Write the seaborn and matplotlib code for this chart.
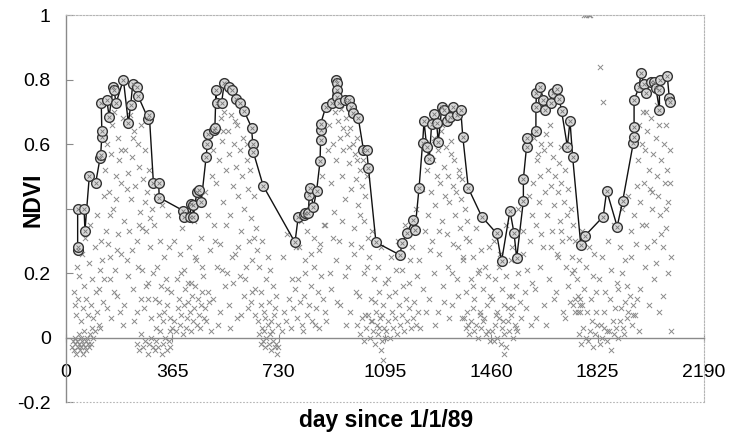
import matplotlib
matplotlib.use("Agg")
import matplotlib.pyplot as plt
import seaborn as sns
import pandas as pd

# ---------------- data ----------------
x_ticks = [0, 365, 730, 1095, 1460, 1825, 2190]
y_ticks = [-0.2, 0, 0.2, 0.4, 0.6, 0.8, 1]
# the 0.4 label is hidden under the axis title in the reference
y_tick_labels = ["-0.2", "0", "0.2", "", "0.6", "0.8", "1"]

# upper envelope (circles joined by line)
env_day = [40, 40, 40, 62, 65, 80, 102, 117, 119, 123, 123, 121, 140, 148, 162, 165, 172, 197,
           214, 222, 229, 245, 247, 283, 286, 300, 318, 320, 403, 406, 426, 429, 435, 437, 449,
           458, 464, 481, 485, 488, 508, 511, 515, 517, 534, 543, 561, 569, 584, 597, 611, 637,
           641, 643, 677, 786, 797, 817, 820, 832, 835, 838, 849, 860, 872, 874, 874, 874, 892,
           912, 926, 929, 931, 929, 938, 958, 972, 980, 986, 1003, 1021, 1032, 1038, 1064, 1146,
           1154, 1169, 1192, 1198, 1212, 1224, 1229, 1238, 1247, 1255, 1263, 1272, 1278, 1290,
           1297, 1307, 1318, 1329, 1341, 1355, 1362, 1381, 1427, 1478, 1495, 1524, 1538, 1547,
           1570, 1570, 1581, 1581, 1613, 1613, 1615, 1627, 1639, 1644, 1664, 1671, 1684, 1693,
           1701, 1721, 1730, 1739, 1767, 1782, 1844, 1856, 1892, 1911, 1947, 1950, 1950, 1950,
           1968, 1973, 1984, 1991, 2007, 2018, 2025, 2037, 2037, 2039, 2064, 2071, 2073]
env_ndvi = [0.27, 0.28, 0.40, 0.40, 0.33, 0.50, 0.48, 0.556, 0.567, 0.623, 0.64, 0.727, 0.737,
            0.685, 0.778, 0.766, 0.727, 0.80, 0.665, 0.72, 0.786, 0.778, 0.75, 0.676, 0.69, 0.48,
            0.48, 0.434, 0.393, 0.375, 0.375, 0.413, 0.41, 0.375, 0.45, 0.458, 0.42, 0.56, 0.60,
            0.63, 0.644, 0.65, 0.768, 0.727, 0.727, 0.788, 0.778, 0.768, 0.74, 0.727, 0.703,
            0.651, 0.60, 0.575, 0.47, 0.295, 0.373, 0.38, 0.386, 0.386, 0.442, 0.463, 0.404,
            0.453, 0.546, 0.613, 0.644, 0.662, 0.716, 0.727, 0.80, 0.789, 0.768, 0.747, 0.727,
            0.737, 0.737, 0.716, 0.695, 0.682, 0.582, 0.582, 0.527, 0.295, 0.256, 0.292, 0.323,
            0.365, 0.334, 0.465, 0.602, 0.67, 0.592, 0.554, 0.661, 0.692, 0.665, 0.606, 0.716,
            0.706, 0.672, 0.685, 0.716, 0.69, 0.706, 0.623, 0.463, 0.375, 0.323, 0.236, 0.393,
            0.323, 0.246, 0.424, 0.492, 0.592, 0.62, 0.641, 0.716, 0.758, 0.778, 0.737, 0.706,
            0.727, 0.758, 0.771, 0.74, 0.703, 0.592, 0.672, 0.561, 0.287, 0.316, 0.375, 0.455,
            0.344, 0.424, 0.602, 0.623, 0.654, 0.737, 0.778, 0.82, 0.786, 0.758, 0.792, 0.792,
            0.773, 0.706, 0.768, 0.80, 0.81, 0.742, 0.73]

# individual observations (gray crosses), by year
obs_day_1989 = [22, 25, 27, 30, 32, 35, 37, 40, 43, 45, 47, 50, 52, 55, 57, 60, 63, 66, 68, 70, 73, 76,
                79, 82, 86, 90, 94, 98,
                26, 30, 34, 38, 42, 46, 50, 54, 58, 62, 66, 70, 74, 78, 82, 86, 90, 94, 98, 103, 108,
                112, 116, 120, 126, 130,
                134, 138, 142, 146, 150, 154, 158, 162, 166, 170, 174, 178, 182, 186, 190, 194, 198,
                202, 206, 210, 214, 218, 222, 226, 230, 234, 238, 242, 246, 250, 254, 258, 262, 266,
                270, 274, 278, 282, 286, 290, 294, 298,
                140, 152, 165, 180, 196, 212, 228, 244, 262, 276,
                302, 306, 310, 314, 318, 322, 326, 330, 334, 338, 342, 346, 350, 354, 358, 362,
                245, 252, 258, 265, 272, 280, 286, 292, 298, 304, 310, 316, 322, 328, 334, 340, 346,
                352, 358, 364,
                105, 112, 118, 124, 132, 144, 156, 168, 176, 188, 200, 216, 232, 248, 256, 268, 280,
                292, 308, 320, 336, 348, 356, 150, 170, 190, 210, 230, 250, 270, 290]
obs_ndvi_1989 = [-0.03, -0.01, -0.04, 0.00, -0.02, -0.05, -0.01, -0.03, 0.01, -0.02, -0.04, 0.00,
                 -0.03, -0.01, -0.05, -0.02, 0.02, -0.03, -0.01, -0.04, 0.00, -0.02, -0.03, 0.01,
                 -0.02, 0.03, 0.00, 0.02,
                 0.14, 0.10, 0.07, 0.22, 0.12, 0.19, 0.05, 0.26, 0.09, 0.16, 0.31, 0.12, 0.07, 0.23,
                 0.35, 0.10, 0.18, 0.06, 0.28, 0.14, 0.38, 0.04, 0.21, 0.30, 0.11, 0.44,
                 0.52, 0.33, 0.60, 0.45, 0.18, 0.57, 0.66, 0.40, 0.70, 0.50, 0.27, 0.62, 0.55, 0.08,
                 0.48, 0.68, 0.36, 0.58, 0.67, 0.24, 0.51, 0.69, 0.43, 0.56, 0.15, 0.64, 0.47, 0.30,
                 0.60, 0.53, 0.39, 0.66, 0.21, 0.49, 0.58, 0.33, 0.45, 0.12, 0.52, 0.28, 0.40, 0.20,
                 0.09, 0.25, 0.14, 0.32, 0.04, 0.19, 0.27, 0.08, 0.34, 0.16,
                 0.35, 0.12, 0.44, 0.22, 0.07, 0.30, 0.16, 0.41, 0.05, 0.25, 0.18, 0.10, 0.38, 0.28,
                 0.06, 0.14,
                 -0.02, -0.04, 0.01, -0.03, -0.01, -0.05, -0.02, 0.00, -0.03, -0.04, -0.01, -0.03,
                 0.02, -0.05, -0.02, 0.00, -0.04, -0.01, -0.03, 0.03,
                 0.08, 0.15, 0.03, 0.24, 0.18, 0.29, 0.06, 0.21, 0.13, 0.26, 0.10, 0.33, 0.05, 0.22,
                 0.12, 0.09, 0.17, 0.06, 0.03, 0.11, 0.08, 0.15, 0.02, 0.38, 0.43, 0.58, 0.46, 0.62,
                 0.35, 0.42, 0.37]

obs_day_1990 = [372, 378, 384, 388, 392, 396, 400, 404, 408, 412, 416, 420, 424, 428, 432, 436, 440,
                444, 448, 452, 456, 460, 464, 468, 472, 476,
                370, 380, 390, 398, 406, 414, 422, 430, 438, 446, 454, 462, 470, 478, 486, 494, 500,
                504, 508, 512, 516, 520, 524, 528, 532, 536, 540, 544, 548, 552, 556, 560, 564, 568,
                572, 576, 580, 584, 588, 592, 596, 600, 604, 608, 612, 616, 620, 624, 628, 632, 636,
                640, 644, 648, 652, 656,
                506, 518, 530, 546, 558, 570, 586, 598, 610, 626, 638, 650,
                662, 668, 674, 680, 686, 692, 698, 704, 710, 716, 722, 728,
                664, 668, 672, 676, 680, 684, 688, 692, 696, 700, 704, 708, 712, 716, 720, 724, 726,
                482, 490, 498, 510, 522, 534, 548, 562, 574, 590, 602, 618, 634, 646, 658, 670, 684,
                700, 714, 396, 418, 442, 466, 488, 540, 580, 620]
obs_ndvi_1990 = [0.05, 0.02, 0.09, 0.12, 0.04, 0.07, 0.01, 0.10, 0.15, 0.03, 0.06, 0.11, 0.08, 0.02,
                 0.13, 0.05, 0.09, 0.16, 0.04, 0.12, 0.07, 0.03, 0.10, 0.14, 0.06, 0.09,
                 0.30, 0.18, 0.26, 0.34, 0.21, 0.40, 0.28, 0.17, 0.36, 0.24, 0.42, 0.31, 0.19, 0.45,
                 0.38, 0.27, 0.50,
                 0.58, 0.35, 0.66, 0.48, 0.72, 0.55, 0.29, 0.68, 0.61, 0.42, 0.70, 0.52, 0.20, 0.64,
                 0.57, 0.38, 0.69, 0.47, 0.60, 0.26, 0.53, 0.66, 0.44, 0.58, 0.33, 0.50, 0.62, 0.40,
                 0.18, 0.55, 0.46, 0.30, 0.52, 0.37, 0.24, 0.44, 0.15, 0.34, 0.27,
                 0.12, 0.22, 0.08, 0.16, 0.10, 0.25, 0.06, 0.19, 0.13, 0.09, 0.14, 0.07,
                 0.22, 0.14, 0.30, 0.08, 0.18, 0.25, 0.11, 0.05, 0.16, 0.09, 0.13, 0.04,
                 0.01, -0.02, 0.03, -0.01, 0.02, -0.03, 0.00, 0.04, -0.02, 0.01, -0.04, 0.02, -0.01,
                 -0.03, -0.02, -0.05, -0.03,
                 0.05, 0.11, 0.02, 0.30, 0.04, 0.21, 0.35, 0.03, 0.17, 0.28, 0.07, 0.22, 0.11, 0.31,
                 0.05, 0.10, 0.06, 0.21, 0.07, 0.20, 0.17, 0.25, 0.22, 0.14, 0.64, 0.67, 0.60]

obs_day_1991 = [740, 748, 756, 764, 772, 780, 786, 792, 798, 804, 810, 816, 822, 828, 834, 840, 846,
                852, 858, 864, 870, 876, 882, 888,
                745, 760, 775, 790, 805, 820, 835, 850, 860, 870, 880, 890, 900,
                904, 908, 912, 916, 920, 924, 928, 932, 936, 940, 944, 948, 952, 956, 960, 964, 968,
                972, 976, 980, 984, 988, 992, 996, 1000, 1004, 1008, 1012, 1016, 1020, 1024, 1028,
                1032, 1036,
                910, 926, 942, 958, 974, 990, 1006, 1022,
                1040, 1046, 1052, 1058, 1064, 1070, 1076, 1082, 1088, 1094,
                1000, 1008, 1016, 1024, 1030, 1036, 1042, 1048, 1054, 1060, 1066, 1072, 1078, 1084,
                1090, 1096, 1082, 1088,
                894, 906, 918, 930, 946, 962, 978, 994, 1010, 1026, 1034, 1050, 1062, 1074, 1086,
                800, 812, 826, 842, 856, 872, 884, 950, 970, 1000]
obs_ndvi_1991 = [0.02, 0.08, 0.05, 0.12, 0.03, 0.09, 0.15, 0.06, 0.18, 0.11, 0.04, 0.13, 0.20, 0.07,
                 0.10, 0.16, 0.05, 0.22, 0.09, 0.14, 0.03, 0.19, 0.12, 0.08,
                 0.25, 0.32, 0.18, 0.28, 0.36, 0.24, 0.40, 0.31, 0.45, 0.27, 0.50, 0.35, 0.58,
                 0.66, 0.48, 0.72, 0.60, 0.39, 0.70, 0.55, 0.67, 0.30, 0.62, 0.71, 0.50, 0.58, 0.43,
                 0.68, 0.63, 0.22, 0.54, 0.65, 0.46, 0.60, 0.34, 0.57, 0.49, 0.62, 0.41, 0.52, 0.28,
                 0.47, 0.55, 0.36, 0.44, 0.50, 0.31,
                 0.15, 0.24, 0.10, 0.19, 0.08, 0.26, 0.13, 0.20,
                 0.25, 0.12, 0.33, 0.18, 0.08, 0.22, 0.14, 0.28, 0.10, 0.17,
                 0.04, 0.01, 0.06, -0.01, 0.03, 0.07, 0.00, 0.05, 0.02, -0.02, 0.04, 0.01, 0.06,
                 -0.01, 0.03, 0.00, -0.04, -0.07,
                 0.05, 0.20, 0.31, 0.11, 0.36, 0.04, 0.29, 0.14, 0.38, 0.07, 0.22, 0.05, 0.11, 0.03,
                 0.07, 0.28, 0.02, 0.33, 0.26, 0.04, 0.29, 0.35, 0.65, 0.59, 0.55]

obs_day_1992 = [1100, 1106, 1112, 1118, 1124, 1130, 1136, 1142, 1148, 1154, 1160, 1166, 1172, 1178,
                1184, 1190, 1196, 1202, 1208,
                1104, 1116, 1128, 1140, 1152, 1164, 1176, 1188, 1200, 1212, 1222, 1232,
                1240, 1244, 1248, 1252, 1256, 1260, 1264, 1268, 1272, 1276, 1280, 1284, 1288, 1292,
                1296, 1300, 1304, 1308, 1312, 1316, 1320, 1324, 1328, 1332, 1336, 1340, 1344, 1348,
                1352, 1356, 1360, 1364, 1368, 1372, 1376,
                1246, 1262, 1278, 1294, 1310, 1326, 1342, 1358, 1374,
                1384, 1390, 1396, 1402, 1408, 1414, 1420, 1426, 1432, 1438, 1444, 1450, 1456,
                1366, 1372, 1378, 1384, 1390, 1396, 1402, 1408, 1414, 1420, 1426, 1432, 1440, 1448,
                1456,
                1214, 1226, 1236, 1250, 1266, 1282, 1298, 1314, 1330, 1346, 1362, 1380, 1398, 1416,
                1436, 1452, 1110, 1134, 1158, 1182, 1206, 1290, 1320, 1350]
obs_ndvi_1992 = [0.02, 0.05, 0.00, 0.08, 0.03, 0.06, 0.01, 0.10, 0.04, 0.07, 0.02, 0.12, 0.05, 0.09,
                 0.03, 0.06, 0.11, 0.04, 0.08,
                 0.18, 0.25, 0.14, 0.30, 0.21, 0.35, 0.17, 0.28, 0.40, 0.24, 0.46, 0.33,
                 0.52, 0.38, 0.60, 0.45, 0.30, 0.55, 0.62, 0.41, 0.50, 0.58, 0.26, 0.48, 0.64, 0.36,
                 0.53, 0.44, 0.59, 0.32, 0.50, 0.42, 0.61, 0.20, 0.47, 0.55, 0.38, 0.45, 0.28, 0.52,
                 0.34, 0.43, 0.49, 0.24, 0.40, 0.31, 0.36,
                 0.12, 0.20, 0.08, 0.16, 0.22, 0.10, 0.18, 0.06, 0.14,
                 0.30, 0.18, 0.25, 0.12, 0.34, 0.20, 0.08, 0.27, 0.15, 0.22, 0.10, 0.19, 0.13,
                 0.06, 0.03, 0.08, 0.01, 0.05, 0.09, 0.02, 0.04, 0.00, 0.07, 0.03, 0.05, 0.01, 0.02,
                 -0.01,
                 0.03, 0.15, 0.08, 0.27, 0.04, 0.33, 0.11, 0.06, 0.29, 0.13, 0.25, 0.04, 0.16, 0.21,
                 0.06, 0.28, 0.13, 0.21, 0.16, 0.24, 0.19, 0.66, 0.57, 0.50]

obs_day_1993 = [1462, 1468, 1474, 1480, 1486, 1492, 1498, 1504, 1510, 1516, 1522, 1528, 1534, 1540,
                1546, 1504,
                1464, 1472, 1480, 1488, 1496, 1504, 1512, 1520, 1528, 1536, 1544, 1552, 1560, 1568,
                1576, 1584, 1592, 1600,
                1470, 1490, 1510, 1530, 1550, 1570, 1590, 1600,
                1604, 1608, 1612, 1616, 1620, 1624, 1628, 1632, 1636, 1640, 1644, 1648, 1652, 1656,
                1660, 1664, 1668, 1672, 1676, 1680, 1684, 1688, 1692, 1696, 1700, 1704, 1708, 1712,
                1716, 1720, 1724, 1728, 1732, 1736, 1740,
                1610, 1626, 1642, 1658, 1674, 1690, 1706, 1722, 1738,
                1748, 1754, 1760, 1766, 1772, 1778, 1784, 1790, 1796, 1802, 1808, 1814, 1820,
                1778, 1786, 1794, 1800, 1833, 1843,
                1760, 1768, 1776, 1784, 1792, 1800, 1808, 1816, 1824, 1832, 1840, 1848, 1856, 1864,
                1872, 1880, 1888, 1896,
                1740, 1748, 1756, 1764, 1772, 1756, 1748, 1764,
                1476, 1500, 1518, 1532, 1548, 1562, 1580, 1596, 1614, 1630, 1648, 1664, 1682, 1698,
                1714, 1730, 1744, 1806, 1818, 1620, 1660, 1700]
obs_ndvi_1993 = [0.02, -0.01, 0.04, 0.00, 0.06, -0.02, 0.03, 0.01, -0.03, 0.05, 0.02, 0.07, 0.00,
                 0.04, 0.03, -0.05,
                 0.12, 0.18, 0.08, 0.22, 0.15, 0.10, 0.19, 0.13, 0.24, 0.09, 0.16, 0.20, 0.11, 0.26,
                 0.14, 0.21, 0.30, 0.17,
                 0.30, 0.26, 0.35, 0.28, 0.40, 0.33, 0.44, 0.38,
                 0.48, 0.62, 0.35, 0.55, 0.64, 0.42, 0.50, 0.60, 0.28, 0.58, 0.45, 0.63, 0.38, 0.52,
                 0.60, 0.47, 0.33, 0.56, 0.41, 0.50, 0.26, 0.45, 0.54, 0.36, 0.48, 0.30, 0.42, 0.52,
                 0.22, 0.38, 0.46, 0.31, 0.40, 0.25, 0.35,
                 0.15, 0.22, 0.10, 0.18, 0.12, 0.25, 0.08, 0.16, 0.20,
                 0.30, 0.18, 0.24, 0.10, 0.33, 0.15, 0.22, 0.08, 0.28, 0.12, 0.19, 0.26, 0.14,
                 1.0, 1.0, 1.0, 1.0, 0.84, 0.73,
                 0.01, -0.02, 0.03, 0.00, -0.01, 0.02, -0.03, 0.01, 0.04, -0.02, 0.00, 0.03, -0.01,
                 0.02, -0.04, 0.01, 0.03, 0.00,
                 0.10, 0.12, 0.13, 0.12, 0.10, 0.08, 0.08, 0.08,
                 0.07, 0.05, 0.09, 0.13, 0.02, 0.06, 0.09, 0.04, 0.06, 0.32, 0.04, 0.28, 0.14, 0.33,
                 0.06, 0.11, 0.21, 0.05, 0.08, 0.57, 0.66, 0.59]

obs_day_1994 = [1900, 1906, 1912, 1918, 1924, 1930, 1936, 1942, 1948, 1954, 1960, 1966,
                1830, 1840, 1850, 1860, 1870, 1880, 1890, 1900, 1910, 1920, 1930, 1940, 1950, 1960,
                1964, 1968, 1972, 1976, 1980, 1984, 1988, 1992, 1996, 2000, 2004, 2008, 2012, 2016,
                2020, 2024, 2028, 2032, 2036, 2040, 2044, 2048, 2052, 2056, 2060, 2064, 2068, 2072,
                2076,
                1970, 1986, 2002, 2018, 2034, 2050, 2066, 2078,
                1836, 1846, 1856, 1866, 1876, 1886, 1896, 1908, 1916, 1926, 1938, 1946, 1956, 1978,
                1994, 2010, 2026, 2042, 2058, 2074, 1990, 2030, 2060]
obs_ndvi_1994 = [0.05, 0.09, 0.03, 0.11, 0.06, 0.08, 0.13, 0.04, 0.10, 0.07, 0.12, 0.02,
                 0.18, 0.25, 0.14, 0.30, 0.21, 0.35, 0.17, 0.28, 0.40, 0.24, 0.44, 0.33, 0.38, 0.47,
                 0.55, 0.66, 0.42, 0.60, 0.70, 0.48, 0.58, 0.35, 0.64, 0.52, 0.46, 0.68, 0.40, 0.57,
                 0.30, 0.62, 0.50, 0.44, 0.66, 0.38, 0.55, 0.28, 0.60, 0.48, 0.34, 0.52, 0.42, 0.58,
                 0.25,
                 0.15, 0.22, 0.10, 0.18, 0.08, 0.13, 0.20, 0.02,
                 0.04, 0.08, 0.02, 0.12, 0.05, 0.09, 0.15, 0.20, 0.01, 0.16, 0.25, 0.07, 0.29, 0.35,
                 0.28, 0.45, 0.23, 0.32, 0.40, 0.48, 0.70, 0.72, 0.66]

# ---------------- frames ----------------
obs = pd.DataFrame({
    "day": obs_day_1989 + obs_day_1990 + obs_day_1991 + obs_day_1992 + obs_day_1993 + obs_day_1994,
    "ndvi": obs_ndvi_1989 + obs_ndvi_1990 + obs_ndvi_1991 + obs_ndvi_1992 + obs_ndvi_1993 + obs_ndvi_1994,
})
env = pd.DataFrame({"day": env_day, "ndvi": env_ndvi})

# ---------------- plot ----------------
sns.set_style("white")
plt.rcParams["font.family"] = ["Liberation Sans", "DejaVu Sans"]
plt.rcParams["text.color"] = "black"
plt.rcParams["xtick.labelcolor"] = "black"
plt.rcParams["ytick.labelcolor"] = "black"

fig = plt.figure(figsize=(7.43, 4.36), dpi=100)
ax = fig.add_axes([66 / 743, 1 - 402 / 436, (704 - 66) / 743, (402 - 15) / 436])

sns.scatterplot(data=obs, x="day", y="ndvi", ax=ax, marker="x", s=14, color="#8a8a8a",
                linewidth=0.7, zorder=2, legend=False)
sns.lineplot(data=env, x="day", y="ndvi", ax=ax, sort=False, estimator=None, color="#111111",
             linewidth=1.0, marker="o", markersize=7, markerfacecolor="#d9d9d9",
             markeredgecolor="#333333", markeredgewidth=1.0, zorder=3)
sns.scatterplot(data=env, x="day", y="ndvi", ax=ax, marker="x", s=8, color="#777777",
                linewidth=0.6, zorder=4, legend=False)

ax.set_xlim(0, 2190)
ax.set_ylim(-0.2, 1)
ax.set_xticks(x_ticks)
ax.set_xticklabels([str(t) for t in x_ticks])
ax.set_yticks(y_ticks)
ax.set_yticklabels(y_tick_labels)
ax.set_xlabel("")
ax.set_ylabel("")

for side in ("top", "right"):
    ax.spines[side].set_linestyle((0, (1.5, 1.5)))
    ax.spines[side].set_color("#b5b5b5")
    ax.spines[side].set_linewidth(0.8)
ax.spines["bottom"].set_position(("data", 0))
ax.spines["bottom"].set_color("#8a8a8a")
ax.spines["bottom"].set_linewidth(1.0)
ax.spines["left"].set_color("#8a8a8a")
ax.spines["left"].set_linewidth(1.0)
ax.axhline(-0.2, color="#b5b5b5", linewidth=0.8, linestyle=(0, (1.5, 1.5)), clip_on=False, zorder=1)

ax.tick_params(axis="y", direction="in", length=5, width=0.8, color="#8a8a8a",
               labelsize=14, pad=11, left=True, labelcolor="black")
ax.tick_params(axis="x", direction="inout", length=6, width=0.8, color="#8a8a8a",
               labelsize=14, pad=16, bottom=True, labelcolor="black")
for lab in ax.get_xticklabels():
    lab.set_bbox(dict(facecolor="white", edgecolor="none", pad=1.5))

fig.text(386 / 743, 1 - 420 / 436, "day since 1/1/89", ha="center", va="center",
         fontsize=16.5, fontweight="bold", color="black")
fig.text(33 / 743, 1 - 200 / 436, "NDVI", ha="center", va="center", rotation=90,
         fontsize=16.5, fontweight="bold", color="black")

fig.savefig("out.png", dpi=100)
